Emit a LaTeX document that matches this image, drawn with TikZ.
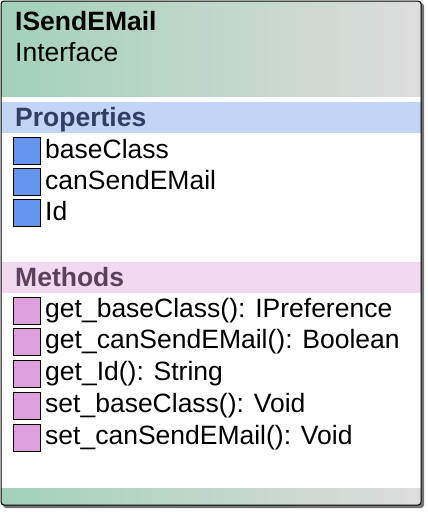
\documentclass[tikz,border=0pt]{standalone}
\usepackage{fontspec}
\setmainfont{Liberation Sans}
\definecolor{hdrgreen}{HTML}{A2D1B8}
\definecolor{hdrgray}{HTML}{DDDDDD}
\definecolor{propband}{HTML}{C2D5F5}
\definecolor{proptext}{HTML}{2E3F63}
\definecolor{methband}{HTML}{F1D9F0}
\definecolor{methtext}{HTML}{5E3F5E}
\definecolor{propicon}{HTML}{6495ED}
\definecolor{methicon}{HTML}{DDA0DD}

\begin{document}
\begin{tikzpicture}[x=1pt, y=-1pt,
	txt/.style={anchor=base west, inner sep=0pt, font=\fontsize{26.5}{30}\selectfont},
	bold/.style={txt, font=\fontsize{26.5}{30}\selectfont\bfseries},
	propbox/.style={draw=black, line width=0.8pt, fill=propicon},
	methbox/.style={draw=black, line width=0.8pt, fill=methicon}]
			%%%%% START %%%%%
			\useasboundingbox (0, 0) rectangle (428, 512);
			
			% shadow and body
			\fill[black!55, rounded corners=3] (3, 3) rectangle (424, 508);
			\fill[white, rounded corners=3] (1, 1) rectangle (421, 505);
			
			\begin{scope}
				\clip[rounded corners=3] (1, 1) rectangle (421, 505);
				\shade[left color=hdrgreen, right color=hdrgray] (1, 1) rectangle (421, 96);
				\shade[left color=hdrgreen, right color=hdrgray] (1, 488) rectangle (421, 505);
				\fill[propband] (1, 102) rectangle (421, 133);
				\fill[methband] (1, 262) rectangle (421, 293);
			\end{scope}
			\draw[line width=1pt, rounded corners=3] (1, 1) rectangle (421, 505);
			
			% header
			\node[bold] (name) at (15, 30) {ISendEMail};
			\node[txt] (kind) at (15, 61) {Interface};
			
			% properties
			\node[bold, text=proptext] (props) at (15, 126) {Properties};
			\draw[propbox] (13, 137) rectangle (40, 164);
			\node[txt] (baseClass) at (45, 158) {baseClass};
			\draw[propbox] (13, 168) rectangle (40, 195);
			\node[txt] (canSendEMail) at (45, 189) {canSendEMail};
			\draw[propbox] (13, 199) rectangle (40, 226);
			\node[txt] (Id) at (45, 220) {Id};
			
			% methods
			\node[bold, text=methtext] (meths) at (15, 286) {Methods};
			\draw[methbox] (13, 297) rectangle (40, 324);
			\node[txt] (getBase) at (45, 317) {get\_baseClass(): IPreference};
			\draw[methbox] (13, 328) rectangle (40, 355);
			\node[txt] (getCan) at (45, 348) {get\_canSendEMail(): Boolean};
			\draw[methbox] (13, 360) rectangle (40, 387);
			\node[txt] (getId) at (45, 380) {get\_Id(): String};
			\draw[methbox] (13, 392) rectangle (40, 419);
			\node[txt] (setBase) at (45, 412) {set\_baseClass(): Void};
			\draw[methbox] (13, 424) rectangle (40, 451);
			\node[txt] (setCan) at (45, 444) {set\_canSendEMail(): Void};
			
			%%%%% END %%%%%
\end{tikzpicture}
\end{document}
